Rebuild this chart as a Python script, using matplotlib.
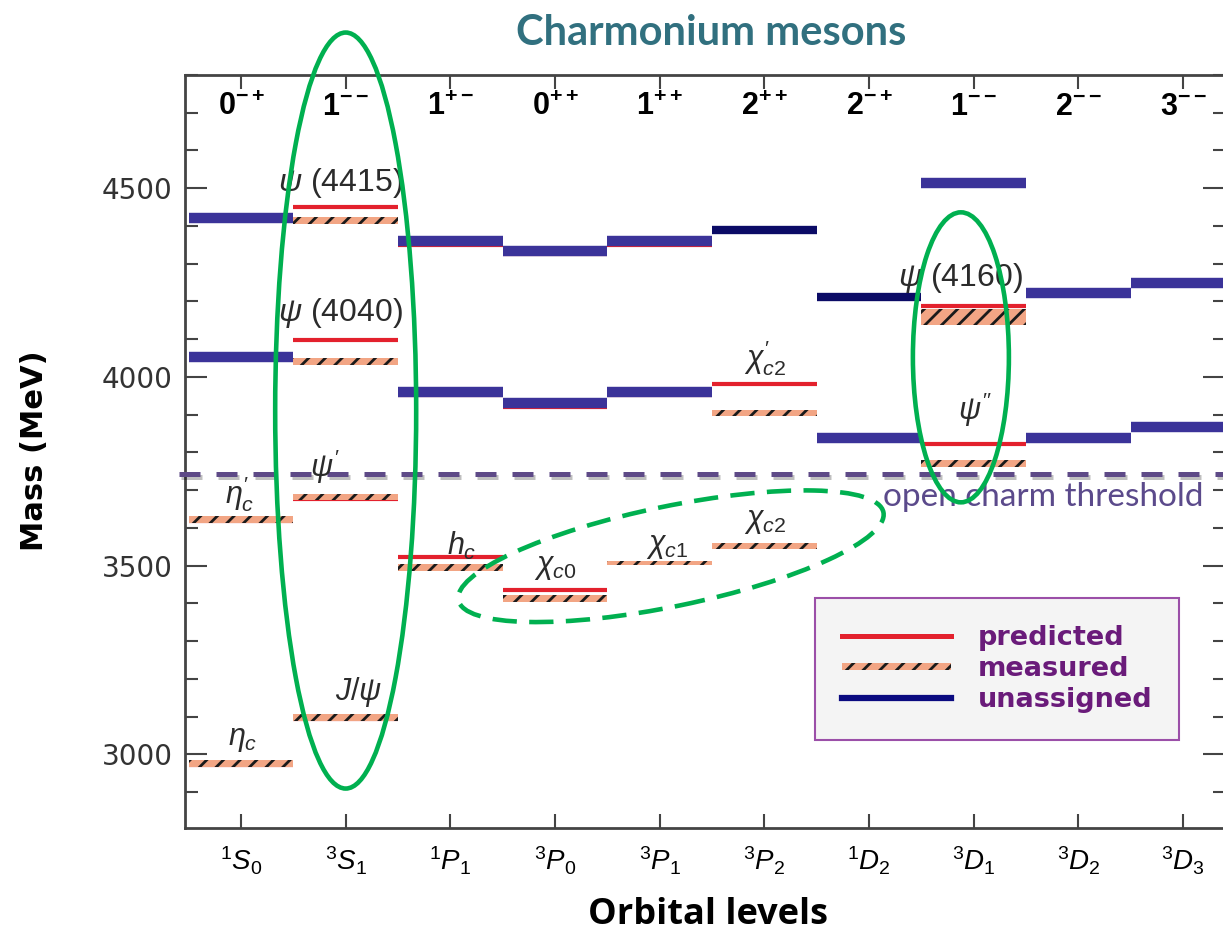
import matplotlib
matplotlib.use("Agg")
import matplotlib.pyplot as plt
import matplotlib.patheffects as pe
from matplotlib.lines import Line2D
from matplotlib.patches import Ellipse, Patch, Rectangle
from matplotlib.legend_handler import HandlerPatch
from matplotlib.ticker import MultipleLocator
from matplotlib.transforms import IdentityTransform, blended_transform_factory

plt.rcParams["mathtext.fontset"] = "custom"
plt.rcParams["mathtext.rm"] = "Liberation Sans"
plt.rcParams["mathtext.it"] = "Liberation Sans:italic"
plt.rcParams["mathtext.bf"] = "Liberation Sans:bold"
plt.rcParams["hatch.linewidth"] = 2.0

# columns: orbital levels (bottom) and J^PC (top)
orbitals = [r"$^1S_0$", r"$^3S_1$", r"$^1P_1$", r"$^3P_0$", r"$^3P_1$",
            r"$^3P_2$", r"$^1D_2$", r"$^3D_1$", r"$^3D_2$", r"$^3D_3$"]
jpc = [("0", "-+"), ("1", "--"), ("1", "+-"), ("0", "++"), ("1", "++"),
       ("2", "++"), ("2", "-+"), ("1", "--"), ("2", "--"), ("3", "--")]

# predicted levels (MeV)
pred_col = [0, 0, 1, 1, 1, 1, 2, 2, 2, 3, 3, 3, 4, 4, 5, 7, 7]
pred_mass = [3618, 2971, 4449, 4098, 3676, 3094, 3523, 4349, 3951,
             3435, 4325, 3920, 4349, 3951, 3981, 4189, 3822]

# measured levels (MeV) and band width
meas_col = [0, 0, 1, 1, 1, 1, 2, 3, 4, 5, 5, 7, 7]
meas_mass = [3623, 2976, 4414, 4041, 3682, 3098, 3496, 3414, 3507, 3905, 3552, 4158, 3771]
meas_err = [18, 18, 18, 18, 14, 18, 18, 18, 12, 16, 16, 42, 18]

# unassigned levels (MeV)
unas_col = [0, 0, 2, 2, 3, 3, 4, 4, 6, 7, 8, 8, 9, 9]
unas_mass = [4421, 4054, 4359, 3961, 4335, 3930, 4359, 3961, 3839, 4514, 4222, 3839, 4250, 3868]
navy_col = [5, 6]
navy_mass = [4390, 4213]

threshold = 3743

# state names and where they sit (column, mass)
state_names = [r"$\psi$ (4415)", r"$\psi$ (4040)", r"$\psi'$", r"$\eta_c'$", r"$h_c$",
               r"$\chi_{c0}$", r"$\chi_{c1}$", r"$\chi_{c2}$", r"$\chi_{c2}'$",
               r"$\psi$ (4160)", r"$\psi''$", r"$J/\psi$", r"$\eta_c$"]
name_col = [0.95, 0.95, 0.80, -0.01, 2.11, 3.0, 4.07, 5.01, 5.01, 6.87, 7.01, 1.12, 0.02]
name_mass = [4515, 4170, 3762, 3690, 3552, 3497, 3552, 3618, 4050, 4263, 3912, 3164, 3040]

RED = "#e3212d"
SALMON = "#f2a584"
BLUE = "#3b3399"
NAVY = "#0b0b66"
GREEN = "#00b050"

fig = plt.figure(figsize=(12.23, 9.41), dpi=100)
ax = fig.add_axes([185 / 1223, 113 / 941, 1040 / 1223, 753 / 941])
ax.set_xlim(-0.535, 9.40)
ax.set_ylim(2805, 4800)

ax.hlines(pred_mass, [c - 0.5 for c in pred_col], [c + 0.5 for c in pred_col],
          color=RED, lw=3.0, zorder=2)
ax.bar(meas_col, meas_err, bottom=[m - e / 2 for m, e in zip(meas_mass, meas_err)],
       width=1.0, color=SALMON, edgecolor="#1a1a1a", lw=0, hatch="//", zorder=2.5)
ax.hlines(unas_mass, [c - 0.5 for c in unas_col], [c + 0.5 for c in unas_col],
          color=BLUE, lw=7.5, zorder=3)
ax.hlines(navy_mass, [c - 0.5 for c in navy_col], [c + 0.5 for c in navy_col],
          color=NAVY, lw=6.0, zorder=3)

# open charm threshold
ax.axhline(threshold, xmin=-0.006, xmax=1.0, color="#5e4a87", lw=3.6,
           linestyle=(0, (4.2, 3.2)), clip_on=False, zorder=4,
           path_effects=[pe.SimpleLineShadow(offset=(1.5, -2.5), alpha=0.25), pe.Normal()])
ax.text(6.13, threshold - 61, "open charm threshold", color="#5b4a8b",
        fontsize=24, family="Lato", va="center", ha="left", zorder=5)

for name, c, m in zip(state_names, name_col, name_mass):
    size = 23 if "(" in name else 22
    ax.text(c, m, name, fontsize=size, color="#2b2b2b", family="Liberation Sans",
            ha="center", va="center", zorder=5)

# J^PC labels on top
top = blended_transform_factory(ax.transData, ax.transAxes)
for i, (j, pc) in enumerate(jpc):
    ax.text(i, 0.947, r"$\mathbf{%s}^{\mathbf{%s}}$" % (j, pc), transform=top,
            fontsize=22, ha="center", va="baseline", color="black")

# axes styling
for s in ax.spines.values():
    s.set_color("#444444")
    s.set_linewidth(2)
ax.set_xticks(range(len(orbitals)))
ax.set_xticklabels(orbitals)
ax.set_yticks([3000, 3500, 4000, 4500])
ax.yaxis.set_minor_locator(MultipleLocator(100))
ax.tick_params(axis="x", direction="in", top=True, bottom=True, length=10, width=1.5,
               color="#444444", labelsize=20, pad=12)
ax.tick_params(axis="y", which="major", direction="in", left=True, right=True,
               length=16, width=1.5, color="#444444", labelsize=20, labelcolor="#333333", pad=9)
ax.tick_params(axis="y", which="minor", direction="in", left=True, right=True,
               length=9, width=1.5, color="#444444")
for lab in ax.get_yticklabels():
    lab.set_family("DejaVu Sans")

fig.text(35 / 1223, 1 - 451 / 941, "Mass (MeV)", rotation=90, ha="center", va="center",
         fontsize=22, fontweight="bold", family="DejaVu Sans")
fig.text(708 / 1223, 1 - 915 / 941, "Orbital levels", ha="center", va="center",
         fontsize=26, fontweight="bold", family="Open Sans")
fig.text(711 / 1223, 1 - 33 / 941, "Charmonium mesons", ha="center", va="center",
         fontsize=30, fontweight="bold", family="Lato", color="#31707f")


# highlight ellipses, sized in pixels around a (column, mass) centre
def ring(col, mass, w, h, angle=0, **kw):
    cx, cy = ax.transData.transform((col, mass))
    e = Ellipse((cx, cy), w, h, angle=angle, transform=IdentityTransform(),
                fill=False, clip_on=False, edgecolor=GREEN, lw=3.3, zorder=6, **kw)
    ax.add_artist(e)


ring(1.0, 3911, 141, 756)
ring(6.877, 4052, 96, 290)
ring(4.107, 3525, 434, 100, angle=11.7, linestyle=(0, (5.3, 2.7)))


# legend
def thin_band(legend, orig_handle, xdescent, ydescent, width, height, fontsize):
    return Rectangle((-xdescent, -ydescent + height * 0.32), width, height * 0.36)


handles = [Line2D([], [], color=RED, lw=3.6),
           Patch(facecolor=SALMON, edgecolor="#1a1a1a", lw=0, hatch="//"),
           Line2D([], [], color="#0a0a80", lw=4.5)]
leg = ax.legend(handles, ["predicted", "measured", "unassigned"],
                handler_map={Patch: HandlerPatch(patch_func=thin_band)},
                loc="upper left", bbox_to_anchor=(0.606, 0.305), borderaxespad=0,
                prop={"family": "DejaVu Sans", "weight": "bold", "size": 19.5},
                labelcolor="#6a1b7a", handlelength=4.0, handletextpad=1.0,
                labelspacing=0.18, borderpad=1.0, fancybox=False, framealpha=1)
leg.get_frame().set_facecolor("#f4f4f4")
leg.get_frame().set_edgecolor("#9b4fa8")
leg.get_frame().set_linewidth(1.5)
leg.set_zorder(7)

fig.savefig("out.png", dpi=100)
